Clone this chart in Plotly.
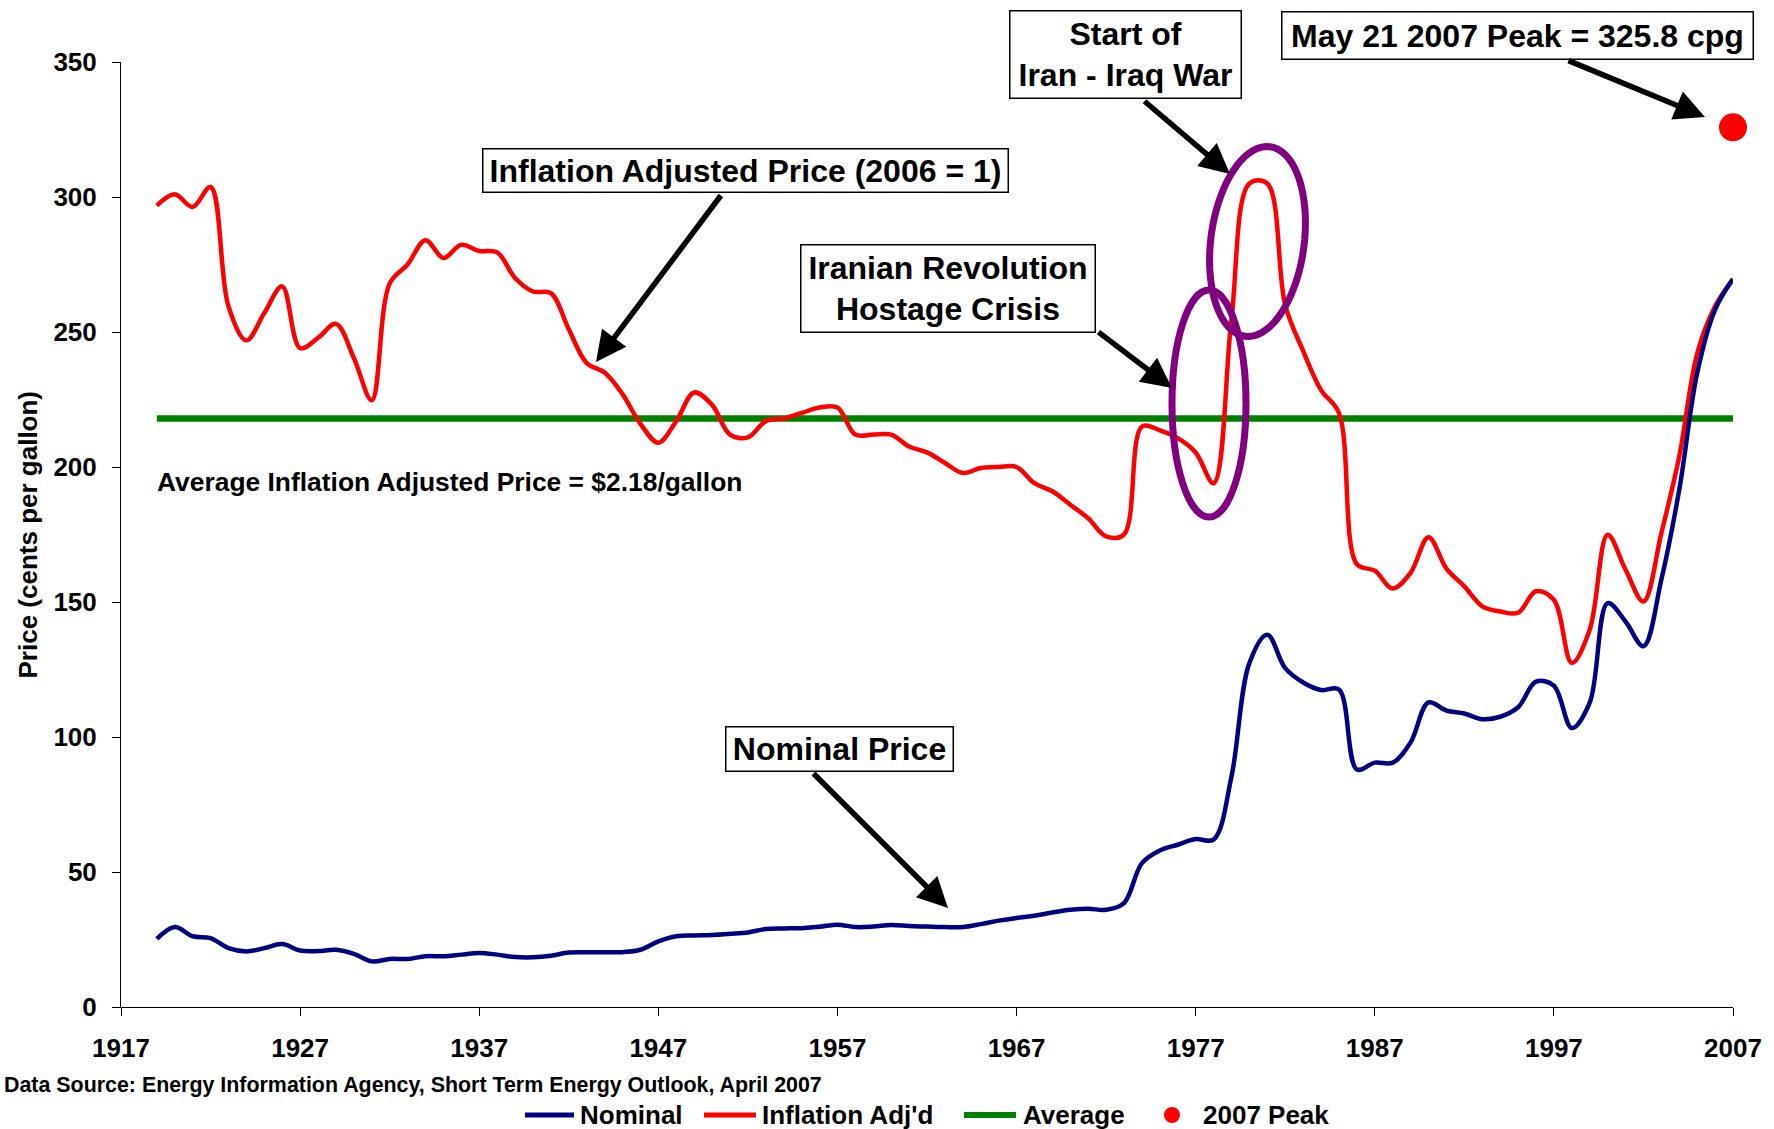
import math
import plotly.graph_objects as go

# Annual US retail gasoline price, cents per gallon
years = list(range(1919, 2008))

nominal = [
    25.2, 29.6, 26.2, 25.5, 21.8, 20.6, 21.8, 23.3, 20.9, 20.7,   # 1919-1928
    21.2, 19.7, 16.9, 17.8, 17.8, 18.8, 18.8, 19.4, 20.0, 19.4,   # 1929-1938
    18.5, 18.4, 19.0, 20.2, 20.3, 20.3, 20.3, 21.2, 24.3, 26.2,   # 1939-1948
    26.5, 26.7, 27.1, 27.6, 28.9, 29.1, 29.2, 29.7, 30.5, 29.6,   # 1949-1958
    29.8, 30.4, 30.0, 29.8, 29.6, 29.6, 30.7, 32.0, 33.0, 33.8,   # 1959-1968
    35.0, 36.0, 36.4, 36.0, 38.5, 53.3, 58.0, 60.1, 62.2, 62.0,   # 1969-1978
    85.4, 127.4, 137.9, 125.5, 120.2, 117.4, 117.6, 88.0, 90.5, 90.5,   # 1979-1988
    98.0, 112.8, 109.8, 108.7, 106.6, 107.5, 111.0, 120.5, 119.0, 103.3,  # 1989-1998
    112.7, 149.6, 142.8, 133.6, 158.3, 191.6, 234.8, 258.3, 269.6,       # 1999-2007
]

inflation_adj = [
    296.8, 301.0, 296.3, 303.7, 259.5, 246.9, 257.0, 266.9, 244.0, 247.8,  # 1919-1928
    253.0, 240.4, 224.7, 268.0, 275.0, 284.0, 277.4, 282.3, 280.0, 279.5,  # 1929-1938
    270.0, 265.0, 264.4, 251.0, 238.5, 235.0, 227.0, 216.0, 209.0, 217.0,  # 1939-1948
    227.6, 223.0, 212.0, 211.0, 217.0, 218.0, 220.0, 222.0, 222.0, 212.0,  # 1949-1958
    212.0, 212.0, 207.6, 205.4, 201.5, 197.8, 199.6, 200.0, 200.0, 194.0,  # 1959-1968
    191.0, 186.0, 181.0, 174.3, 175.0, 215.0, 213.6, 210.7, 205.4, 194.0,  # 1969-1978
    255.0, 305.0, 305.0, 260.0, 243.0, 228.5, 220.0, 164.0, 161.6, 155.0,  # 1979-1988
    160.8, 174.0, 162.4, 155.8, 148.4, 146.5, 146.0, 154.0, 150.8, 127.4,  # 1989-1998
    139.7, 174.9, 162.0, 150.2, 175.5, 204.0, 242.0, 259.5, 269.6,         # 1999-2007
]

avg_years = [1919, 2007]
avg_price = [218, 218]

peak_year = [2007]
peak_price = [325.8]

FONT = "Liberation Sans, Arial, sans-serif"
BLUE = "#000080"
RED = "#FF0000"
GREEN = "#008000"
PURPLE = "#800080"

W, H = 1774, 1129
L, R, T, B = 121, 41, 62, 122
PW, PH = W - L - R, H - T - B


# pixel position -> data / paper coordinates (for annotations only)
def dx(p):
    return 1917 + (p - L) * 90 / PW


def dy(p):
    return (T + PH - p) * 350 / PH


def pxp(p):
    return (p - L) / PW


def pyp(p):
    return (T + PH - p) / PH


fig = go.Figure()

fig.add_trace(go.Scatter(x=avg_years, y=avg_price, mode="lines", name="Average",
                         line=dict(color=GREEN, width=6.5), cliponaxis=False))
fig.add_trace(go.Scatter(x=years, y=inflation_adj, mode="lines", name="Inflation Adj'd",
                         line=dict(color=RED, width=4.5, shape="spline", smoothing=1),
                         cliponaxis=False))
fig.add_trace(go.Scatter(x=years, y=nominal, mode="lines", name="Nominal",
                         line=dict(color=BLUE, width=4.5, shape="spline", smoothing=1),
                         cliponaxis=False))
fig.add_trace(go.Scatter(x=peak_year, y=peak_price, mode="markers", name="2007 Peak",
                         marker=dict(color=RED, size=28), cliponaxis=False))

# purple ellipses
shapes = [dict(type="circle", xref="x", yref="y",
               x0=dx(1172), x1=dx(1246), y0=dy(517), y1=dy(290),
               line=dict(color=PURPLE, width=7))]

cx, cy, a, b, al = 1257.5, 241.5, 95.6, 46.7, math.radians(7.5)
pts = []
for k in range(73):
    t = 2 * math.pi * k / 72
    x = cx + a * math.cos(t) * math.sin(al) + b * math.sin(t) * math.cos(al)
    y = cy - a * math.cos(t) * math.cos(al) + b * math.sin(t) * math.sin(al)
    pts.append(f"{dx(x):.3f},{dy(y):.3f}")
shapes.append(dict(type="path", xref="x", yref="y", path="M " + " L ".join(pts) + " Z",
                   line=dict(color=PURPLE, width=7)))

# hand-made legend below the axis
leg_y = pyp(1115)
for x0, x1, col, w in [(525, 574, BLUE, 5), (704, 756, RED, 5), (964, 1016, GREEN, 6)]:
    shapes.append(dict(type="line", xref="paper", yref="paper",
                       x0=pxp(x0), x1=pxp(x1), y0=leg_y, y1=leg_y,
                       line=dict(color=col, width=w)))
shapes.append(dict(type="circle", xref="paper", yref="paper",
                   x0=pxp(1164), x1=pxp(1180), y0=pyp(1123), y1=pyp(1107),
                   fillcolor=RED, line=dict(color=RED, width=0)))

annotations = []

# boxed call-outs: (text, left, top, right, bottom) in pixels
boxes = [
    ("Inflation Adjusted Price (2006 = 1)", 482, 148, 1009, 193),
    ("Iranian Revolution<br>Hostage Crisis", 800, 244, 1096, 333),
    ("Start of<br>Iran - Iraq War", 1009, 10, 1242, 99),
    ("May 21 2007 Peak = 325.8 cpg", 1281, 11, 1754, 60),
    ("Nominal Price", 725, 726, 954, 772),
]
for text, x0, y0, x1, y1 in boxes:
    annotations.append(dict(
        text=text, xref="paper", yref="paper",
        x=pxp((x0 + x1) / 2), y=pyp((y0 + y1) / 2),
        xanchor="center", yanchor="middle", showarrow=False,
        width=x1 - x0 - 3, height=y1 - y0 - 3, borderpad=0,
        bgcolor="white", bordercolor="black", borderwidth=1.5,
        font=dict(family=FONT, size=32, color="black", weight="bold"),
    ))

# arrows: (start px, tip px)
arrows = [
    ((722, 194), (596, 362)),
    ((1097, 331), (1172, 388)),
    ((1143, 100), (1230, 174)),
    ((1567, 60), (1705, 117)),
    ((812, 772), (948, 908)),
]
for (sx, sy), (tx, ty) in arrows:
    annotations.append(dict(
        text="", x=dx(tx), y=dy(ty), ax=dx(sx), ay=dy(sy),
        xref="x", yref="y", axref="x", ayref="y",
        showarrow=True, arrowhead=2, arrowsize=1.1, arrowwidth=5.5,
        arrowcolor="black", standoff=0, startstandoff=0,
    ))

annotations.append(dict(
    text="Average Inflation Adjusted Price = $2.18/gallon",
    xref="paper", yref="paper", x=pxp(155), y=pyp(482),
    xanchor="left", yanchor="middle", showarrow=False,
    font=dict(family=FONT, size=26.4, color="black", weight="bold"),
))
annotations.append(dict(
    text="Price (cents per gallon)", textangle=-90,
    xref="paper", yref="paper", x=pxp(27), y=0.5,
    xanchor="center", yanchor="middle", showarrow=False,
    font=dict(family=FONT, size=26, color="black", weight="bold"),
))
annotations.append(dict(
    text="Data Source: Energy Information Agency, Short Term Energy Outlook, April 2007",
    xref="paper", yref="paper", x=pxp(2), y=pyp(1085),
    xanchor="left", yanchor="middle", showarrow=False,
    font=dict(family=FONT, size=21.4, color="black", weight="bold"),
))
for label, x in [("Nominal", 578), ("Inflation Adj'd", 760), ("Average", 1021), ("2007 Peak", 1201)]:
    annotations.append(dict(
        text=label, xref="paper", yref="paper", x=pxp(x), y=leg_y,
        xanchor="left", yanchor="middle", showarrow=False,
        font=dict(family=FONT, size=26, color="black", weight="bold"),
    ))

axis_style = dict(
    showline=True, linecolor="black", linewidth=1,
    ticks="outside", ticklen=8, tickcolor="black", tickwidth=1,
    showgrid=False, zeroline=False,
    tickfont=dict(family=FONT, size=26, color="black", weight="bold"),
)

fig.update_layout(
    width=W, height=H,
    margin=dict(l=L, r=R, t=T, b=B),
    paper_bgcolor="white", plot_bgcolor="white",
    showlegend=False,
    font=dict(family=FONT, color="black"),
    xaxis=dict(range=[1917, 2007], tick0=1917, dtick=10, ticklabelstandoff=10, **axis_style),
    yaxis=dict(range=[0, 350], dtick=50, ticklabelstandoff=10, **axis_style),
    shapes=shapes,
    annotations=annotations,
)

# the page body has a default 8px margin; drop it so the figure fills the window
fig.write_html("out.html", config={"displayModeBar": False},
               post_script="document.body.style.margin = '0';")
